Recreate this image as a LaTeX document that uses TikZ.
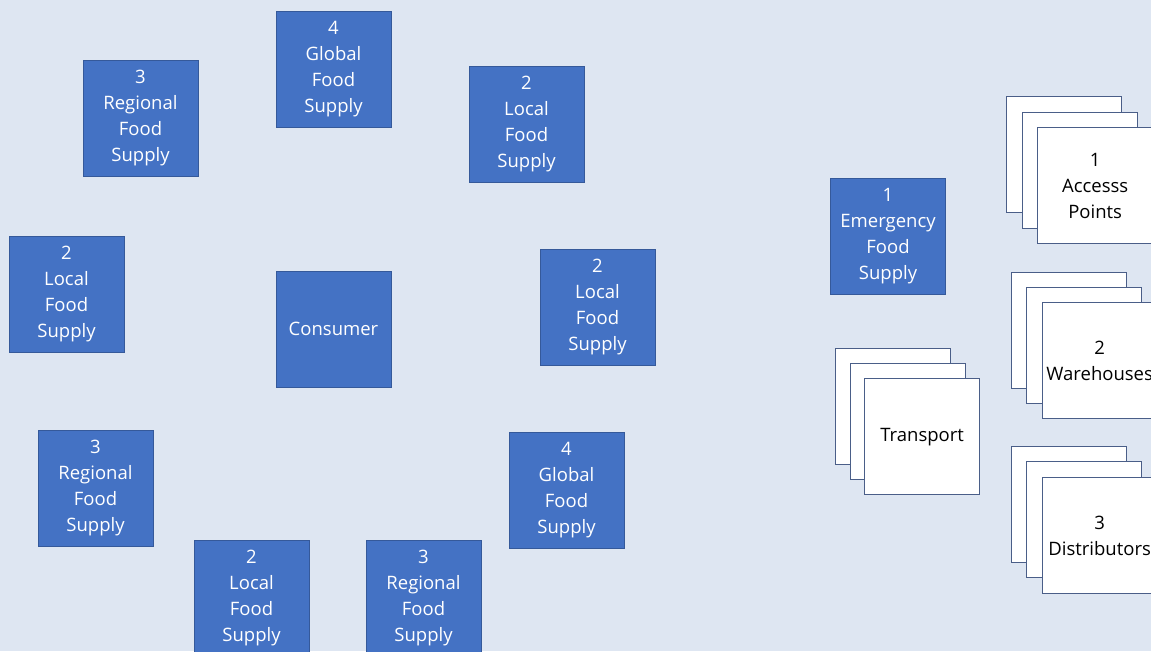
\documentclass[tikz,border=0pt]{standalone}
\usepackage{fontspec}
\setmainfont{Open Sans}
\definecolor{bg}{HTML}{DEE6F2}
\definecolor{boxblue}{HTML}{4472C4}
\definecolor{boxedge}{HTML}{35599A}
\definecolor{stackedge}{HTML}{4A5E88}
\begin{document}
\begin{tikzpicture}[x=1pt,y=-1pt,
  bluebox/.style={rectangle,fill=boxblue,draw=boxedge,line width=1pt,text=white,
    minimum width=115pt,minimum height=116pt,inner sep=0pt,align=center,
    font=\fontsize{18.5}{26}\selectfont},
  paper/.style={rectangle,fill=white,draw=stackedge,line width=1.3pt,text=black,
    minimum width=115pt,minimum height=116pt,inner sep=0pt,align=center,anchor=north west,
    font=\fontsize{18.5}{26}\selectfont}]
\clip (0,0) rectangle (1151,651);
\fill[bg] (0,0) rectangle (1151,651);
% blue boxes
\node[bluebox] (gtop) at (333.5,69) {4\\Global\\Food\\Supply};
\node[bluebox] (rtl) at (140.5,118) {3\\Regional\\Food\\Supply};
\node[bluebox] (ltr) at (526.5,124) {2\\Local\\Food\\Supply};
\node[bluebox] (lleft) at (66.5,294) {2\\Local\\Food\\Supply};
\node[bluebox] (cons) at (333.5,329) {Consumer};
\node[bluebox] (lright) at (597.5,307) {2\\Local\\Food\\Supply};
\node[bluebox] (rbl) at (95.5,488) {3\\Regional\\Food\\Supply};
\node[bluebox] (gbr) at (566.5,490) {4\\Global\\Food\\Supply};
\node[bluebox] (lbot) at (251.5,598) {2\\Local\\Food\\Supply};
\node[bluebox] (rbot) at (423.5,598) {3\\Regional\\Food\\Supply};
\node[bluebox] (emerg) at (888,236) {1\\Emergency\\Food\\Supply};
% stacks
\node[paper] (acc3) at (1006,96) {};
\node[paper] (acc2) at (1021.5,111.5) {};
\node[paper] (acc1) at (1037,127) {1\\Accesss\\Points};
\node[paper] (war3) at (1011,272) {};
\node[paper] (war2) at (1026,287) {};
\node[paper] (war1) at (1041.5,302) {2\\Warehouses};
\node[paper] (tra3) at (835,348) {};
\node[paper] (tra2) at (850,363) {};
\node[paper] (tra1) at (864,378) {Transport};
\node[paper] (dis3) at (1011,446) {};
\node[paper] (dis2) at (1026,461) {};
\node[paper] (dis1) at (1041.5,477) {3\\Distributors};
\end{tikzpicture}
\end{document}
